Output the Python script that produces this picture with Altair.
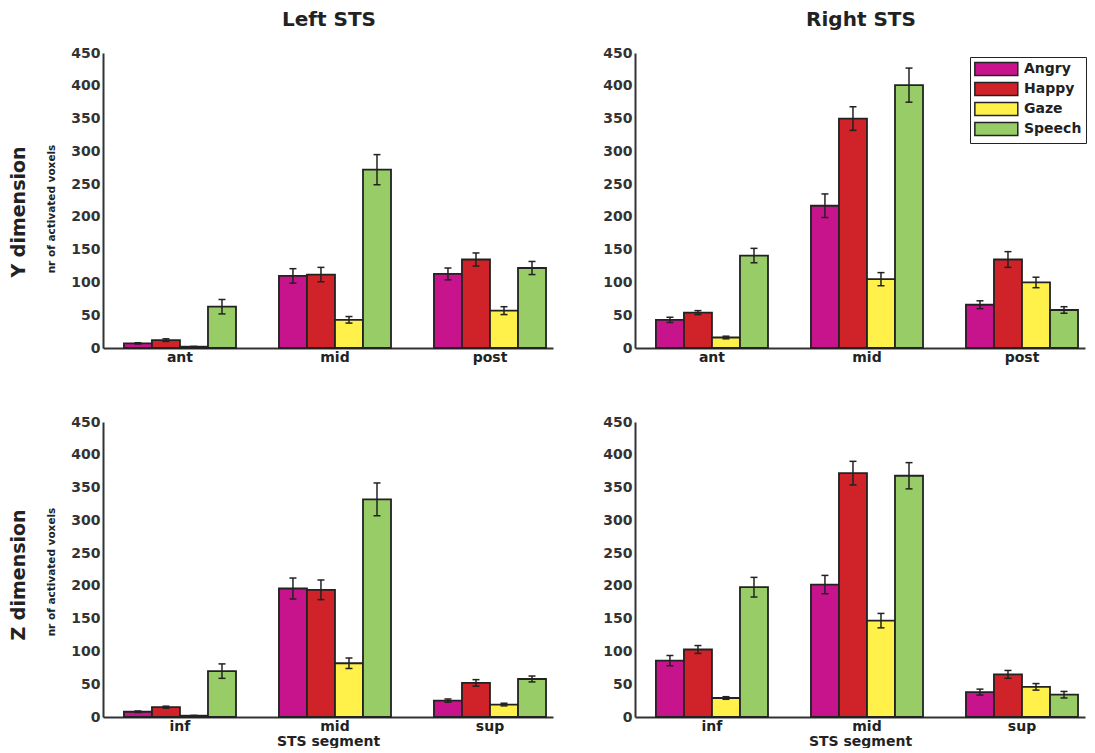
import altair as alt
import pandas as pd

emotions = ["Angry", "Happy", "Gaze", "Speech"]
colors = ["#C8148C", "#D02229", "#FFF04A", "#98CC66"]
y_segments = ["ant", "mid", "post"]
z_segments = ["inf", "mid", "sup"]
y_ticks = [0, 50, 100, 150, 200, 250, 300, 350, 400, 450]

# values per segment, in emotion order (Angry, Happy, Gaze, Speech)
left_y_mean = [7, 12, 2, 63, 110, 112, 43, 272, 113, 135, 57, 122]
left_y_err = [1, 2, 0.5, 11, 11, 11, 5, 23, 9, 10, 6, 10]
right_y_mean = [43, 54, 16, 141, 217, 350, 105, 401, 66, 135, 100, 58]
right_y_err = [4, 3, 2, 11, 18, 18, 10, 26, 6, 12, 8, 5]
left_z_mean = [8, 15, 2, 70, 196, 194, 82, 332, 25, 52, 19, 58]
left_z_err = [1, 1.5, 0.5, 11, 16, 15, 8, 25, 2.5, 5, 2, 4.5]
right_z_mean = [86, 103, 29, 198, 202, 372, 147, 368, 38, 65, 46, 34]
right_z_err = [8, 6, 2, 15, 14, 18, 11, 20, 4.5, 6, 5, 5]

FONT = "DejaVu Sans"
INK = "#222222"
W, H = 450, 295


def frame(segments, means, errs):
    rows = []
    for i, s in enumerate(segments):
        for j, e in enumerate(emotions):
            m = means[i * 4 + j]
            er = errs[i * 4 + j]
            rows.append(dict(segment=s, emotion=e, value=m, lo=m - er, hi=m + er))
    return pd.DataFrame(rows)


def panel(df, segments, title=None, row_label=None, xtitle=None, legend=False):
    xaxis = alt.Axis(title=xtitle, labelAngle=0, ticks=False, domainColor="#333333",
                     domainWidth=2, labelFont=FONT, labelFontSize=14, labelFontWeight="bold",
                     labelColor=INK, labelPadding=2, titleFont=FONT, titleFontSize=14,
                     titleFontWeight="bold", titleColor=INK, titlePadding=1)
    xs = lambda: alt.X("segment:N", sort=segments,
                       scale=alt.Scale(paddingInner=0.277, paddingOuter=0.09, align=0.75),
                       axis=xaxis)
    xo = lambda: alt.XOffset("emotion:N", sort=emotions,
                             scale=alt.Scale(paddingInner=0, paddingOuter=0))
    yaxis = alt.Axis(title=None, values=y_ticks, grid=False, ticks=False,
                     domainColor="#333333", domainWidth=2, labelFont=FONT,
                     labelFontSize=14, labelFontWeight="bold", labelColor="#333333",
                     labelPadding=3)
    ys = lambda f: alt.Y(f + ":Q", scale=alt.Scale(domain=[0, 450], nice=False), axis=yaxis)
    if legend:
        leg = alt.Legend(title=None, orient="none", legendX=335, legendY=4,
                         symbolType="M-1,-0.9H5V0.9H-1Z", symbolSize=205,
                         symbolStrokeColor=INK, symbolStrokeWidth=1.5, symbolOpacity=1,
                         labelFont=FONT, labelFontSize=14, labelFontWeight="bold",
                         labelColor=INK, strokeColor=INK, fillColor="white",
                         padding=4, rowPadding=0, labelOffset=34)
    else:
        leg = None
    color = alt.Color("emotion:N", sort=emotions,
                      scale=alt.Scale(domain=emotions, range=colors), legend=leg)
    base = alt.Chart(df)
    bars = base.mark_bar(stroke=INK, strokeWidth=1.8, opacity=1).encode(
        x=xs(), xOffset=xo(), y=ys("value"), color=color)
    rules = base.mark_rule(color=INK, strokeWidth=1.5).encode(
        x=xs(), xOffset=xo(), y=ys("lo"), y2="hi:Q")
    cap_lo = base.mark_tick(color=INK, thickness=1.5, size=7, opacity=1).encode(
        x=xs(), xOffset=xo(), y=ys("lo"))
    cap_hi = base.mark_tick(color=INK, thickness=1.5, size=7, opacity=1).encode(
        x=xs(), xOffset=xo(), y=ys("hi"))
    layers = [bars, rules, cap_lo, cap_hi]
    if title:
        layers.append(alt.Chart(pd.DataFrame({"t": [title]})).mark_text(
            font=FONT, fontSize=20, fontWeight="bold", color=INK, align="center",
            baseline="middle").encode(x=alt.value(226), y=alt.value(-33), text="t:N"))
    if row_label:
        big, small, yc = row_label
        layers.append(alt.Chart(pd.DataFrame({"t": [big]})).mark_text(
            font=FONT, fontSize=19, fontWeight="bold", color=INK, align="center",
            baseline="middle", angle=270).encode(x=alt.value(-84), y=alt.value(yc + 3), text="t:N"))
        layers.append(alt.Chart(pd.DataFrame({"t": [small]})).mark_text(
            font=FONT, fontSize=10.5, fontWeight="bold", color=INK, align="center",
            baseline="middle", angle=270).encode(x=alt.value(-51), y=alt.value(yc), text="t:N"))
    return alt.layer(*layers).properties(width=W, height=H)


p1 = panel(frame(y_segments, left_y_mean, left_y_err), y_segments, title="Left STS",
           row_label=("Y dimension", "nr of activated voxels", 156))
p2 = panel(frame(y_segments, right_y_mean, right_y_err), y_segments, title="Right STS",
           legend=True)
p3 = panel(frame(z_segments, left_z_mean, left_z_err), z_segments,
           row_label=("Z dimension", "nr of activated voxels", 150), xtitle="STS segment")
p4 = panel(frame(z_segments, right_z_mean, right_z_err), z_segments, xtitle="STS segment")

chart = alt.concat(p1, p2, p3, p4, columns=2, spacing={"row": 74, "column": 82},
                   bounds="flush").resolve_scale(x="independent").resolve_legend(
    color="independent").properties(
    padding={"left": 2, "top": 2, "right": 0, "bottom": 0}).configure_view(stroke=None)

chart.save("out.html", embed_options={"renderer": "svg", "actions": False})
